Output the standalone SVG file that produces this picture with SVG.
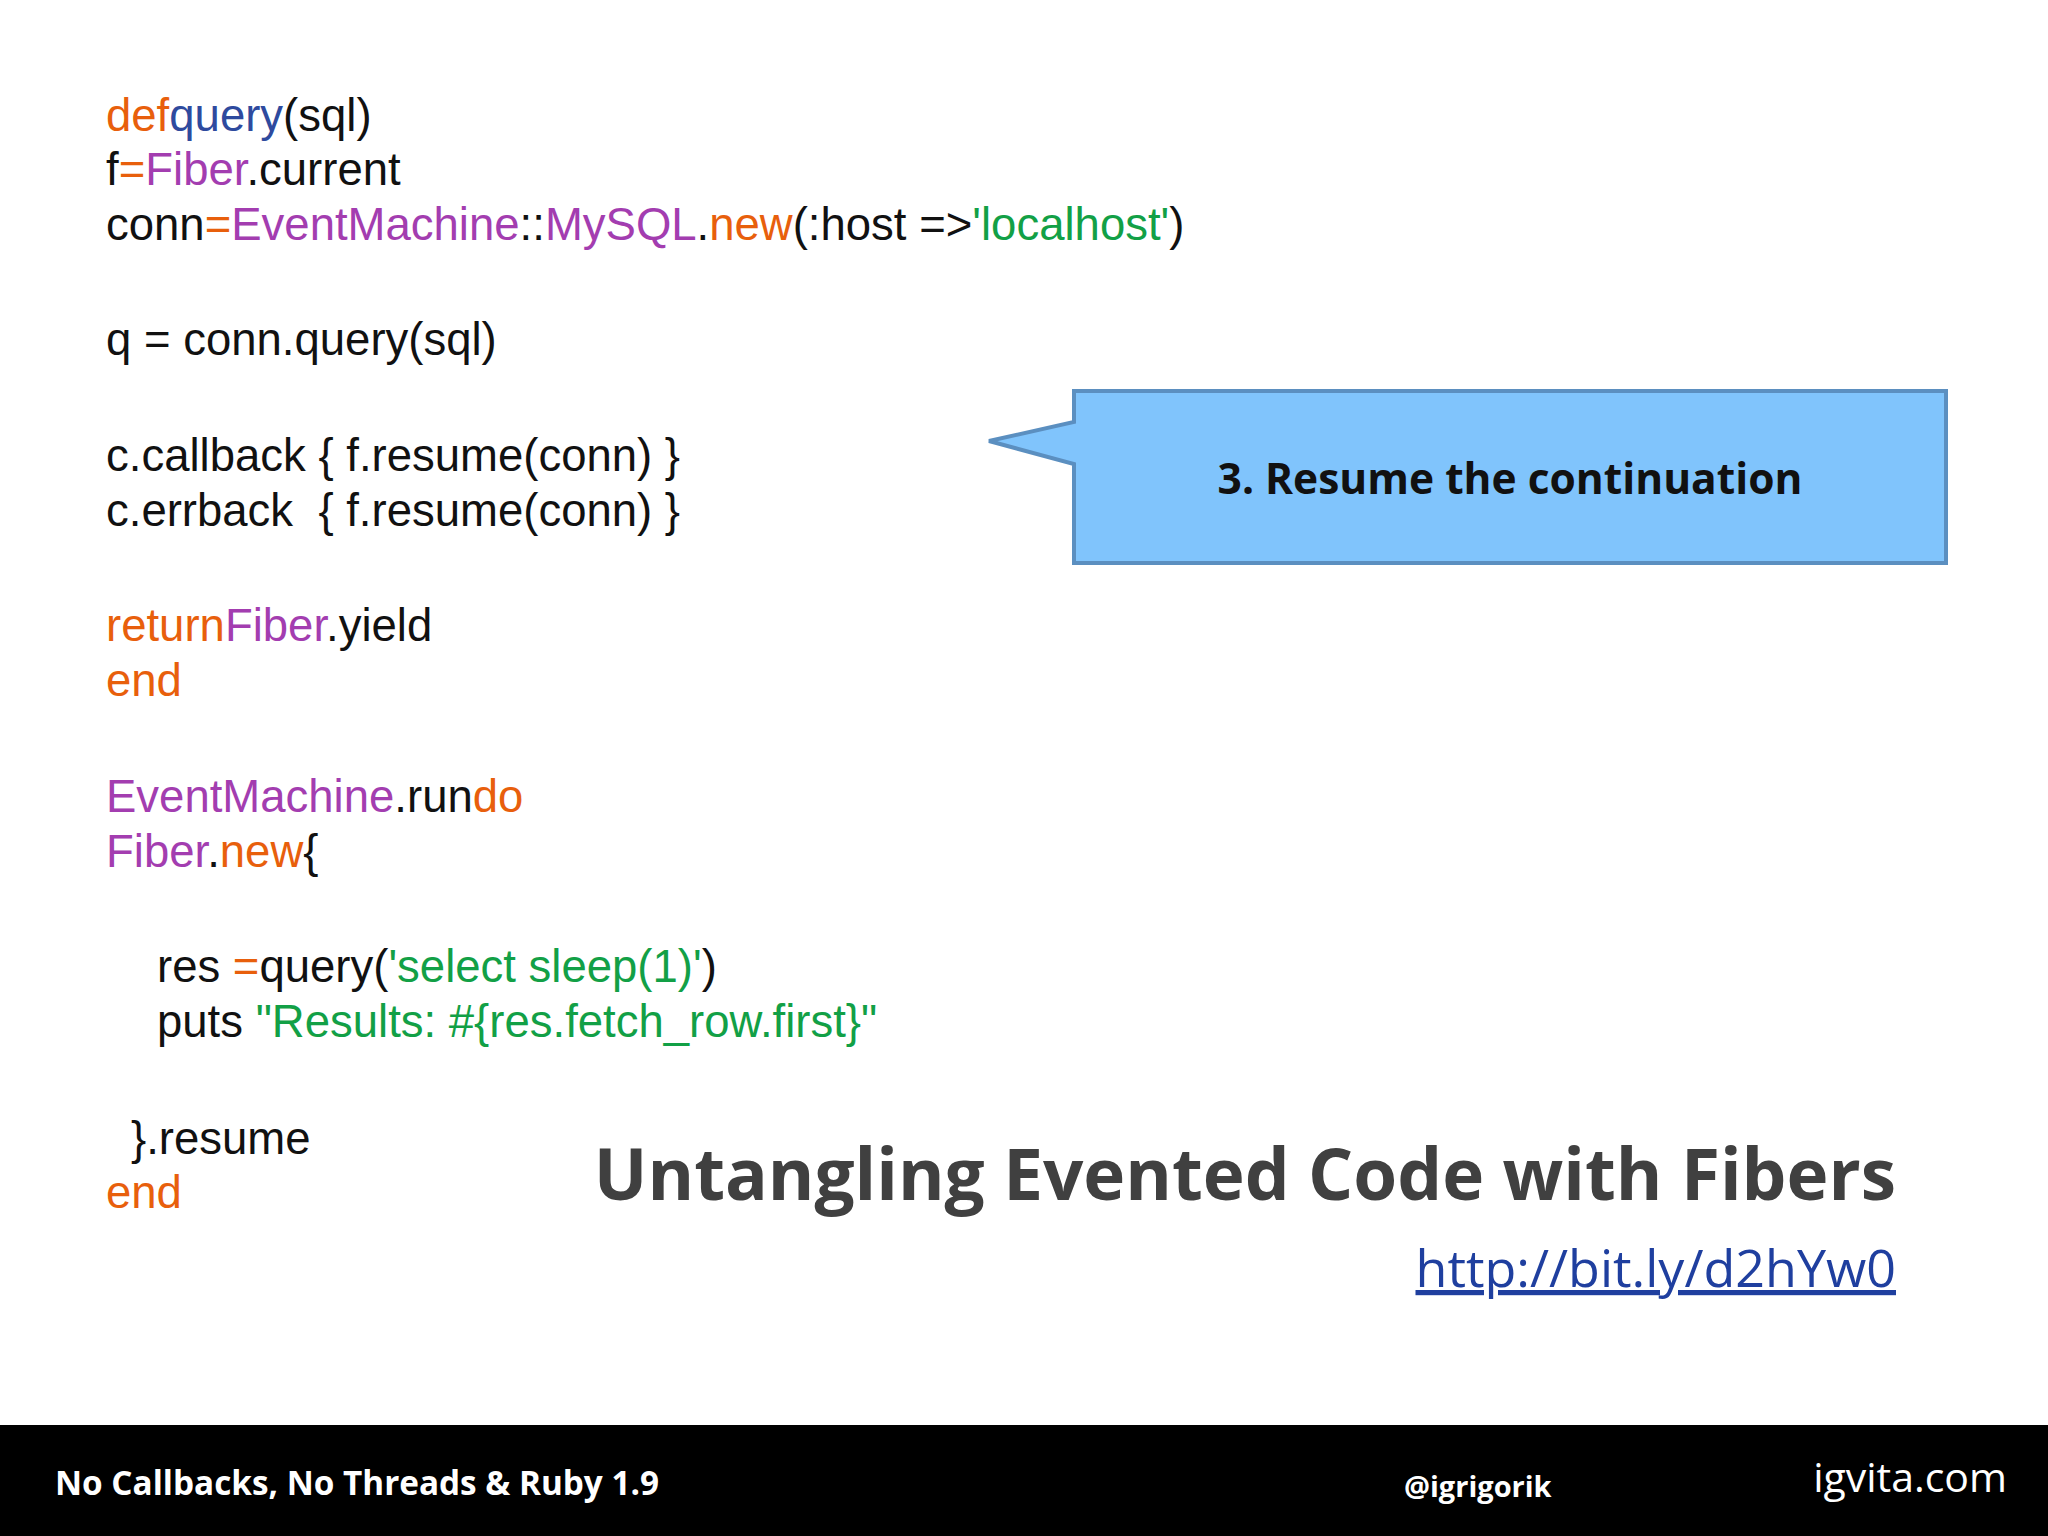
<svg xmlns="http://www.w3.org/2000/svg" width="2048" height="1536" viewBox="0 0 2048 1536">
<style>
.c{font-family:"Liberation Sans",Arial,sans-serif;font-size:45.5px;fill:#111}
.o{fill:#e85f0c}.b{fill:#2e4a9e}.p{fill:#a33db0}.g{fill:#12a046}
.os{font-family:"Open Sans","Noto Sans",sans-serif;font-weight:bold}
</style>
<rect width="2048" height="1536" fill="#fff"/>
<g id="code">
<text class="c" x="106" y="131"><tspan class="o">def</tspan><tspan class="b">query</tspan>(sql)</text>
<text class="c" x="106" y="185">f<tspan class="o">=</tspan><tspan class="p">Fiber</tspan>.current</text>
<text class="c" x="106" y="240">conn<tspan class="o">=</tspan><tspan class="p">EventMachine</tspan>::<tspan class="p">MySQL</tspan>.<tspan class="o">new</tspan>(:host =&gt;<tspan class="g">'localhost'</tspan>)</text>
<text class="c" x="106" y="355">q = conn.query(sql)</text>
<text class="c" x="106" y="471">c.callback { f.resume(conn) }</text>
<text class="c" x="106" y="526" xml:space="preserve">c.errback  { f.resume(conn) }</text>
<text class="c" x="106" y="641"><tspan class="o">return</tspan><tspan class="p">Fiber</tspan>.yield</text>
<text class="c o" x="106" y="696">end</text>
<text class="c" x="106" y="812"><tspan class="p">EventMachine</tspan>.run<tspan class="o">do</tspan></text>
<text class="c" x="106" y="867"><tspan class="p">Fiber</tspan>.<tspan class="o">new</tspan>{</text>
<text class="c" x="157" y="982">res <tspan class="o">=</tspan>query(<tspan class="g">'select sleep(1)'</tspan>)</text>
<text class="c" x="157" y="1037">puts <tspan class="g">"Results: #{res.fetch_row.first}"</tspan></text>
<text class="c" x="131" y="1154">}.resume</text>
<text class="c o" x="106" y="1208">end</text>
</g>
<g id="callout">
<path d="M1074,391 H1946 V563 H1074 V464 L989,441 L1074,422 Z" fill="#80c4fc" stroke="#5b8fc0" stroke-width="4"/>
<text class="os" x="1510" y="494" font-size="42.5" text-anchor="middle" fill="#111">3. Resume the continuation</text>
</g>
<g id="title">
<text class="os" x="1896" y="1200" font-size="71" text-anchor="end" fill="#404040">Untangling Evented Code with Fibers</text>
<text x="1896" y="1287" font-family="Open Sans,sans-serif" font-size="52" text-anchor="end" fill="#1f3f9f" text-decoration="underline">http://bit.ly/d2hYw0</text>
</g>
<g id="footer">
<rect x="0" y="1425" width="2048" height="111" fill="#000"/>
<text class="os" x="55" y="1495" font-size="33.3" fill="#fff">No Callbacks, No Threads &amp; Ruby 1.9</text>
<text class="os" x="1404" y="1497" font-size="29" fill="#fff">@igrigorik</text>
<text x="2007" y="1492" font-family="Open Sans,sans-serif" font-size="41" text-anchor="end" fill="#fff">igvita.com</text>
</g>
</svg>
